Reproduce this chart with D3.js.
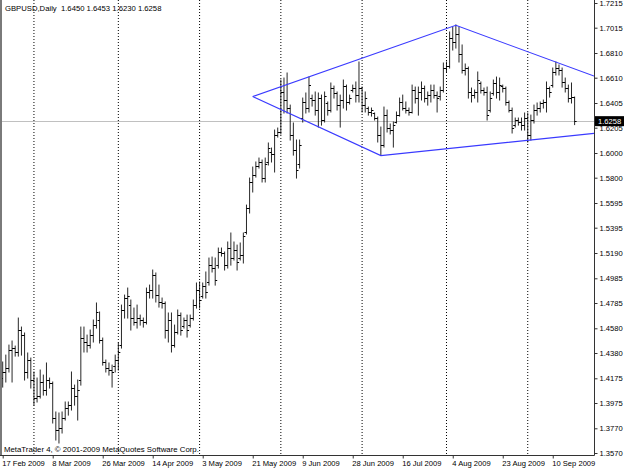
<!DOCTYPE html>
<html><head><meta charset="utf-8">
<script src="https://cdn.jsdelivr.net/npm/d3@7"></script>
<style>
body{margin:0;background:#fff;}
svg{display:block;font-family:"Liberation Sans",Arial,sans-serif;}
</style></head><body>
<svg id="c" width="625" height="469"></svg>
<script>
// ---------- DATA ----------
const symbol = "GBPUSD,Daily";
const firstDay = [2009, 1, 17]; // 17 Feb 2009 (trading days, Sunday bars included)
const opens = [
1.4177,1.4226,1.4258,1.4404,1.4420,1.4388,1.4566,1.4525,1.4226,1.4323,
1.4161,1.4015,1.4031,1.4145,1.4080,1.4161,1.4129,1.3853,1.3756,1.3772,
1.3853,1.3934,1.3958,1.4096,1.4031,1.4161,1.4501,1.4469,1.4444,1.4525,
1.4606,1.4647,1.4485,1.4307,1.4258,1.4242,1.4274,1.4323,1.4444,1.4728,
1.4825,1.4768,1.4663,1.4631,1.4663,1.4647,1.4631,1.4874,1.4890,1.5011,
1.4849,1.4793,1.4777,1.4566,1.4647,1.4444,1.4550,1.4687,1.4598,1.4647,
1.4606,1.4663,1.4768,1.4890,1.4841,1.4922,1.4955,1.5092,1.5068,1.5092,
1.5198,1.5182,1.5092,1.5230,1.5149,1.5214,1.5149,1.5173,1.5360,1.5554,
1.5765,1.5821,1.5894,1.5927,1.5797,1.5919,1.6008,1.5984,1.6145,1.6170,
1.6494,1.6429,1.6364,1.6145,1.6024,1.5903,1.6283,1.6413,1.6364,1.6445,
1.6429,1.6348,1.6445,1.6267,1.6397,1.6348,1.6526,1.6478,1.6388,1.6429,
1.6542,1.6413,1.6510,1.6526,1.6469,1.6526,1.6388,1.6364,1.6332,1.6316,
1.6283,1.6145,1.6064,1.6307,1.6202,1.6186,1.6251,1.6307,1.6413,1.6364,
1.6348,1.6332,1.6510,1.6445,1.6494,1.6526,1.6445,1.6469,1.6510,1.6469,
1.6461,1.6510,1.6688,1.6704,1.6931,1.6899,1.6956,1.6794,1.6672,1.6688,
1.6494,1.6469,1.6494,1.6559,1.6510,1.6494,1.6348,1.6478,1.6559,1.6494,
1.6542,1.6526,1.6405,1.6348,1.6226,1.6267,1.6251,1.6226,1.6283,1.6145,
1.6267,1.6348,1.6364,1.6397,1.6413,1.6526,1.6550,1.6656,1.6688,1.6672,
1.6575,1.6526,1.6445,1.6450];
const highs = [
1.4307,1.4363,1.4444,1.4477,1.4436,1.4663,1.4590,1.4542,1.4380,1.4339,
1.4226,1.4177,1.4242,1.4201,1.4299,1.4177,1.4145,1.3902,1.3894,1.3902,
1.3983,1.3983,1.4226,1.4120,1.4161,1.4590,1.4590,1.4525,1.4566,1.4647,
1.4785,1.4712,1.4501,1.4323,1.4299,1.4282,1.4363,1.4461,1.4768,1.4849,
1.4906,1.4809,1.4744,1.4768,1.4687,1.4663,1.4906,1.4930,1.5052,1.5028,
1.4930,1.4825,1.4793,1.4704,1.4704,1.4606,1.4728,1.4704,1.4663,1.4687,
1.4687,1.4809,1.4947,1.4955,1.4947,1.5036,1.5149,1.5157,1.5149,1.5230,
1.5230,1.5198,1.5279,1.5352,1.5279,1.5254,1.5271,1.5352,1.5578,1.5797,
1.5886,1.5927,1.5959,1.5943,1.5959,1.6081,1.6040,1.6186,1.6202,1.6591,
1.6607,1.6648,1.6388,1.6243,1.6105,1.6105,1.6445,1.6486,1.6615,1.6469,
1.6494,1.6486,1.6469,1.6494,1.6413,1.6567,1.6542,1.6494,1.6469,1.6591,
1.6550,1.6469,1.6550,1.6575,1.6737,1.6534,1.6494,1.6372,1.6364,1.6324,
1.6291,1.6210,1.6372,1.6348,1.6235,1.6251,1.6332,1.6445,1.6469,1.6413,
1.6364,1.6550,1.6534,1.6534,1.6575,1.6542,1.6494,1.6550,1.6550,1.6494,
1.6534,1.6729,1.6737,1.6980,1.7020,1.7037,1.7020,1.6875,1.6721,1.6696,
1.6526,1.6510,1.6656,1.6575,1.6526,1.6534,1.6494,1.6591,1.6615,1.6607,
1.6550,1.6534,1.6421,1.6364,1.6283,1.6283,1.6283,1.6324,1.6324,1.6307,
1.6388,1.6405,1.6413,1.6429,1.6575,1.6534,1.6688,1.6737,1.6713,1.6688,
1.6607,1.6550,1.6567,1.6453];
const lows = [
1.4104,1.4145,1.4226,1.4145,1.4355,1.4355,1.4363,1.4161,1.4177,1.4096,
1.3958,1.3983,1.4015,1.4039,1.4039,1.4096,1.3813,1.3675,1.3651,1.3732,
1.3837,1.3877,1.3918,1.3958,1.3837,1.4120,1.4388,1.4388,1.4420,1.4469,
1.4582,1.4461,1.4282,1.4226,1.4201,1.4104,1.4226,1.4242,1.4420,1.4663,
1.4663,1.4566,1.4606,1.4582,1.4606,1.4590,1.4615,1.4825,1.4825,1.4793,
1.4752,1.4744,1.4501,1.4469,1.4388,1.4428,1.4534,1.4525,1.4582,1.4509,
1.4590,1.4647,1.4744,1.4744,1.4825,1.4825,1.4930,1.5036,1.4930,1.5068,
1.5165,1.5052,1.5068,1.5092,1.5133,1.5052,1.5133,1.5109,1.5344,1.5514,
1.5684,1.5805,1.5878,1.5765,1.5765,1.5903,1.5927,1.5846,1.6129,1.6154,
1.6324,1.6324,1.6105,1.5983,1.5797,1.5878,1.6251,1.6324,1.6332,1.6380,
1.6307,1.6210,1.6226,1.6251,1.6307,1.6332,1.6445,1.6348,1.6210,1.6364,
1.6348,1.6397,1.6494,1.6413,1.6413,1.6332,1.6332,1.6307,1.6299,1.6267,
1.6089,1.5983,1.6048,1.6170,1.6154,1.6048,1.6243,1.6299,1.6348,1.6324,
1.6307,1.6324,1.6405,1.6307,1.6429,1.6413,1.6388,1.6413,1.6445,1.6332,
1.6429,1.6494,1.6656,1.6688,1.6834,1.6850,1.6737,1.6648,1.6632,1.6445,
1.6413,1.6445,1.6413,1.6486,1.6469,1.6267,1.6332,1.6469,1.6445,1.6429,
1.6494,1.6388,1.6332,1.6162,1.6210,1.6226,1.6186,1.6186,1.6089,1.6105,
1.6243,1.6307,1.6332,1.6364,1.6332,1.6453,1.6534,1.6632,1.6632,1.6534,
1.6494,1.6413,1.6405,1.6230];
const closes = [
1.4226,1.4258,1.4404,1.4420,1.4388,1.4566,1.4525,1.4226,1.4323,1.4161,
1.4015,1.4031,1.4145,1.4080,1.4161,1.4129,1.3853,1.3756,1.3772,1.3853,
1.3934,1.3958,1.4096,1.4031,1.4080,1.4501,1.4469,1.4444,1.4525,1.4606,
1.4712,1.4485,1.4307,1.4258,1.4242,1.4226,1.4323,1.4388,1.4728,1.4825,
1.4841,1.4663,1.4631,1.4663,1.4647,1.4631,1.4874,1.4890,1.5011,1.4849,
1.4793,1.4777,1.4566,1.4647,1.4444,1.4550,1.4687,1.4566,1.4647,1.4566,
1.4663,1.4768,1.4890,1.4809,1.4922,1.4874,1.5092,1.5068,1.4971,1.5198,
1.5182,1.5092,1.5230,1.5149,1.5214,1.5117,1.5173,1.5327,1.5554,1.5765,
1.5821,1.5894,1.5927,1.5797,1.5903,1.6040,1.5984,1.6145,1.6170,1.6494,
1.6429,1.6364,1.6145,1.6024,1.5862,1.6064,1.6413,1.6364,1.6550,1.6429,
1.6348,1.6445,1.6267,1.6461,1.6348,1.6526,1.6478,1.6388,1.6429,1.6542,
1.6413,1.6445,1.6526,1.6469,1.6526,1.6388,1.6445,1.6332,1.6348,1.6283,
1.6145,1.6064,1.6307,1.6202,1.6186,1.6226,1.6307,1.6413,1.6364,1.6348,
1.6332,1.6510,1.6445,1.6494,1.6526,1.6445,1.6469,1.6510,1.6469,1.6445,
1.6510,1.6688,1.6704,1.6931,1.6899,1.6956,1.6794,1.6672,1.6688,1.6494,
1.6469,1.6494,1.6591,1.6510,1.6494,1.6307,1.6445,1.6559,1.6494,1.6550,
1.6526,1.6413,1.6348,1.6202,1.6267,1.6251,1.6226,1.6283,1.6145,1.6267,
1.6348,1.6364,1.6397,1.6413,1.6526,1.6494,1.6656,1.6688,1.6672,1.6575,
1.6526,1.6445,1.6448,1.6258];
const yTicks = [1.7215,1.7015,1.6810,1.6610,1.6405,1.6205,1.6000,1.5800,1.5595,1.5395,
                1.5190,1.4985,1.4785,1.4580,1.4380,1.4175,1.3975,1.3770,1.3570];
const xLabels = ["17 Feb 2009","8 Mar 2009","26 Mar 2009","14 Apr 2009","3 May 2009","21 May 2009",
                 "9 Jun 2009","28 Jun 2009","16 Jul 2009","4 Aug 2009","23 Aug 2009","10 Sep 2009"];
const xLabelStep = 16;
// diamond (trend lines): [bar index, price]
const upperLine = [[80,1.6457],[145,1.7034],[189.2,1.6623]];
const lowerLine = [[80,1.6457],[121,1.5979],[189.2,1.6159]];
const copyright = "MetaTrader 4, \u00A9 2001-2009 MetaQuotes Software Corp.";

// ---------- CHART ----------
const W = 625, H = 469;
const plotRight = 594, plotBottom = 455;
const svg = d3.select("#c");
const n = opens.length;
const fmt = d3.format(".4f");

// trading dates (Sun-Fri)
const dates = [];
let d = new Date(firstDay[0], firstDay[1], firstDay[2]);
while (dates.length < n) { if (d.getDay() !== 6) dates.push(new Date(d)); d = d3.timeDay.offset(d, 1); }
const monthStarts = d3.range(1, n).filter(i => dates[i].getMonth() !== dates[i - 1].getMonth());

const x = d3.scaleLinear().domain([0, 189.2]).range([2.7, plotRight]);
const y = d3.scaleLinear().domain([1.3570, 1.7215]).range([453, 3]);

svg.append("rect").attr("width", W).attr("height", H).attr("fill", "#fff");

svg.append("defs").append("clipPath").attr("id", "pc")
  .append("rect").attr("x", 0).attr("y", 0).attr("width", plotRight).attr("height", plotBottom);

// month separator grid
svg.append("g").selectAll("line").data(monthStarts).join("line")
  .attr("x1", i => x(i)).attr("x2", i => x(i)).attr("y1", 0).attr("y2", plotBottom)
  .attr("stroke", "#000").attr("stroke-width", 1).attr("stroke-dasharray", "1,2");

// last price line
const ylast = Math.round(y(closes[n - 1])) + 0.5;
svg.append("line").attr("x1", 0).attr("x2", plotRight).attr("y1", ylast).attr("y2", ylast)
  .attr("stroke", "#c0c0c0");

// OHLC bars
const snap = v => Math.round(v - 0.5) + 0.5;
const gb = svg.append("g").attr("clip-path", "url(#pc)");
gb.selectAll("path.hl").data(d3.range(n)).join("path").attr("class", "hl")
  .attr("d", i => {
    const xi = x(i);
    const hi = Math.max(highs[i], opens[i], closes[i]);
    const lo = Math.min(lows[i], opens[i], closes[i]);
    return `M${xi},${y(hi) - 0.5}V${y(lo) + 0.5}`;
  })
  .attr("fill", "none").attr("stroke", "#000").attr("stroke-width", 0.85);
gb.selectAll("path.oc").data(d3.range(n)).join("path").attr("class", "oc")
  .attr("d", i => {
    const xi = x(i);
    const yo = snap(y(opens[i])), yc = snap(y(closes[i]));
    return `M${xi - 2},${yo}H${xi}M${xi},${yc}H${xi + 2}`;
  })
  .attr("fill", "none").attr("stroke", "#000").attr("stroke-width", 1);

// diamond lines
const line = d3.line().x(p => x(p[0])).y(p => y(p[1]));
const tl = svg.append("g").attr("clip-path", "url(#pc)");
[upperLine, lowerLine].forEach(pts => {
  tl.append("path").attr("d", line(pts)).attr("fill", "none")
    .attr("stroke", "#3a3aff").attr("stroke-width", 1.1);
});

// frame
svg.append("line").attr("x1", 1).attr("x2", 1).attr("y1", 0).attr("y2", plotBottom)
  .attr("stroke", "#7a7a7a").attr("stroke-width", 2);
svg.append("line").attr("x1", 0).attr("x2", plotRight + 0.5).attr("y1", plotBottom + 0.5).attr("y2", plotBottom + 0.5)
  .attr("stroke", "#333");
svg.append("line").attr("x1", plotRight + 0.5).attr("x2", plotRight + 0.5).attr("y1", 0).attr("y2", plotBottom + 0.5)
  .attr("stroke", "#333");

// y axis
const yAxis = d3.axisRight(y).tickValues(yTicks).tickFormat(fmt).tickSize(3).tickPadding(2);
const gy = svg.append("g").attr("transform", `translate(${plotRight + 0.5},0)`).call(yAxis);
gy.select(".domain").remove();
gy.selectAll(".tick line").attr("stroke", "#333");
gy.selectAll(".tick text").attr("font-size", "7.6px").attr("font-family", "Liberation Sans, Arial, sans-serif")
  .attr("fill", "#000").attr("dy", "0.34em");

// x axis
const xTickIdx = xLabels.map((_, k) => k * xLabelStep);
const xAxis = d3.axisBottom(x).tickValues(xTickIdx).tickFormat((v, k) => xLabels[k]).tickSize(3).tickPadding(1);
const gx = svg.append("g").attr("transform", `translate(0,${plotBottom + 0.5})`).call(xAxis);
gx.select(".domain").remove();
gx.selectAll(".tick line").attr("stroke", "#333");
gx.selectAll(".tick text").attr("font-size", "7.6px").attr("font-family", "Liberation Sans, Arial, sans-serif")
  .attr("fill", "#000").attr("text-anchor", "start").attr("x", -1).attr("dy", "0.9em");

// last price box
const yl = y(closes[n - 1]);
svg.append("rect").attr("x", plotRight + 1).attr("y", yl - 5).attr("width", 29).attr("height", 10).attr("fill", "#000");
svg.append("text").attr("x", plotRight + 4).attr("y", yl).attr("dy", "0.34em")
  .attr("font-size", "7.6px").attr("fill", "#fff").text(fmt(closes[n - 1]));

// title
svg.append("text").attr("x", 5).attr("y", 11).attr("font-size", "7.7px").attr("fill", "#000")
  .attr("xml:space", "preserve").style("white-space", "pre")
  .text(`${symbol}  ${fmt(opens[n-1])} ${fmt(highs[n-1])} ${fmt(lows[n-1])} ${fmt(closes[n-1])}`);

// copyright
svg.append("text").attr("x", 4).attr("y", 451.5).attr("font-size", "7.8px").attr("fill", "#000").text(copyright);
</script>
</body></html>
